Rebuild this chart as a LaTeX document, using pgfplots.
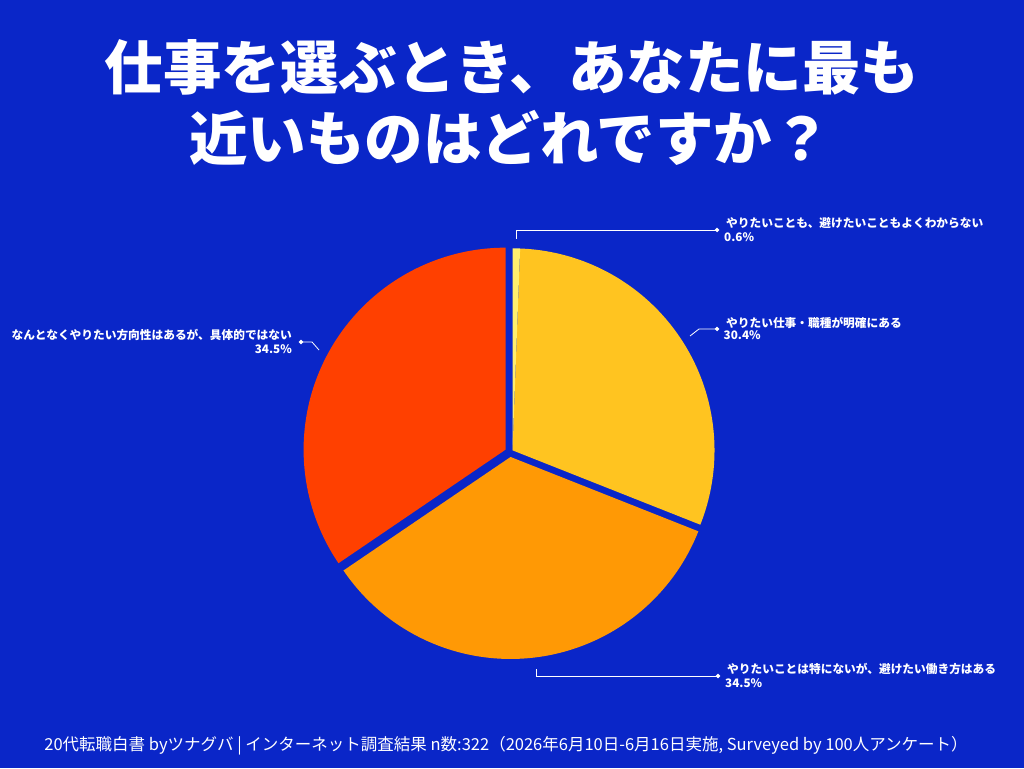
\documentclass[border=0pt]{standalone}
\usepackage{pgfplots}
\pgfplotsset{compat=1.18}
\usepackage{fontspec}
\setmainfont{Noto Sans CJK JP}
\newfontfamily\titlefont{Noto Sans CJK JP Black}
\definecolor{bg}{RGB}{10,38,200}
\definecolor{cTiny}{RGB}{255,238,110}
\definecolor{cYel}{RGB}{255,196,32}
\definecolor{cOra}{RGB}{255,153,5}
\definecolor{cRed}{RGB}{255,64,0}
% data (percent)
\def\vA{0.6}\def\vB{30.4}\def\vC{34.5}\def\vD{34.5}
\begin{document}
\begin{tikzpicture}
\pgfmathsetmacro\cx{510}\pgfmathsetmacro\cy{316}\pgfmathsetmacro\R{202}
\pgfmathsetmacro\aA{90}
\pgfmathsetmacro\aB{\aA-3.6*\vA}
\pgfmathsetmacro\aC{\aB-3.6*\vB}
\pgfmathsetmacro\aD{\aC-3.6*\vC}
\pgfmathsetmacro\aE{\aD-3.6*\vD}
% explode offsets along mid angles
\pgfmathsetmacro\oxB{\cx+3*cos((\aB+\aC)/2)}\pgfmathsetmacro\oyB{\cy+3*sin((\aB+\aC)/2)}
\pgfmathsetmacro\oxA{\oxB}\pgfmathsetmacro\oyA{\oyB}
\pgfmathsetmacro\oxC{\cx+5*cos((\aC+\aD)/2)}\pgfmathsetmacro\oyC{\cy+5*sin((\aC+\aD)/2)}
\pgfmathsetmacro\oxD{\cx+5*cos((\aD+\aE)/2)}\pgfmathsetmacro\oyD{\cy+5*sin((\aD+\aE)/2)}
\begin{axis}[scale only axis, width=1024pt, height=768pt,
  xmin=0, xmax=1024, ymin=0, ymax=768, axis lines=none, clip=false]
\addplot[fill=bg, draw=none] coordinates {(0,0) (1024,0) (1024,768) (0,768)} -- cycle;
% slices
\addplot[fill=cYel, draw=none, domain=\aC:\aB, samples=120] ({\oxB+\R*cos(x)},{\oyB+\R*sin(x)}) -- (axis cs:\oxB,\oyB) -- cycle;
\addplot[fill=cTiny, draw=none, domain=\aB:\aA, samples=10] ({\oxA+\R*cos(x)},{\oyA+\R*sin(x)}) -- (axis cs:\oxA,\oyA) -- cycle;
\addplot[fill=cOra, draw=none, domain=\aD:\aC, samples=120] ({\oxC+\R*cos(x)},{\oyC+\R*sin(x)}) -- (axis cs:\oxC,\oyC) -- cycle;
\addplot[fill=cRed, draw=none, domain=\aE:\aD, samples=120] ({\oxD+\R*cos(x)},{\oyD+\R*sin(x)}) -- (axis cs:\oxD,\oyD) -- cycle;
% leader lines
\addplot[white, line width=0.8pt, mark=*, mark size=1.7pt, mark indices={3}, mark options={fill=white, solid}] coordinates {(516,529) (516,538) (717,538)};
\addplot[white, line width=0.8pt, mark=*, mark size=1.7pt, mark indices={3}, mark options={fill=white, solid}] coordinates {(690,432) (699,439) (717,439)};
\addplot[white, line width=0.8pt, mark=*, mark size=1.7pt, mark indices={3}, mark options={fill=white, solid}] coordinates {(319,418) (312,426) (301,426)};
\addplot[white, line width=0.8pt, mark=*, mark size=1.7pt, mark indices={3}, mark options={fill=white, solid}] coordinates {(536,99) (536,92) (718,92)};
% labels
\begin{scope}[every node/.style={text=white, inner sep=0pt, font=\bfseries\fontsize{11.7}{14}\selectfont}]
\node[anchor=west] at (axis cs:726,545) {やりたいことも、避けたいこともよくわからない};
\node[anchor=west] at (axis cs:724,531) {0.6\%};
\node[anchor=west] at (axis cs:726,445) {やりたい仕事・職種が明確にある};
\node[anchor=west] at (axis cs:723.5,433) {30.4\%};
\node[anchor=east] at (axis cs:292,433) {なんとなくやりたい方向性はあるが、具体的ではない};
\node[anchor=east] at (axis cs:292,419) {34.5\%};
\node[anchor=west] at (axis cs:727,99) {やりたいことは特にないが、避けたい働き方はある};
\node[anchor=west] at (axis cs:725,85) {34.5\%};
\end{scope}
% title
\node[text=white, inner sep=0pt, font=\titlefont\fontsize{58.5}{70}\selectfont] at (axis cs:512,701) {仕事を選ぶとき、あなたに最も};
\node[text=white, inner sep=0pt, font=\titlefont\fontsize{58.5}{70}\selectfont] at (axis cs:510,630) {近いものはどれですか？};
% footer
\node[text=white, inner sep=0pt, font=\fontsize{16.5}{19}\selectfont] at (axis cs:506,22) {20代転職白書 byツナグバ | インターネット調査結果 n数:322（2026年6月10日-6月16日実施, Surveyed by 100人アンケート）};
\end{axis}
\end{tikzpicture}
\end{document}
